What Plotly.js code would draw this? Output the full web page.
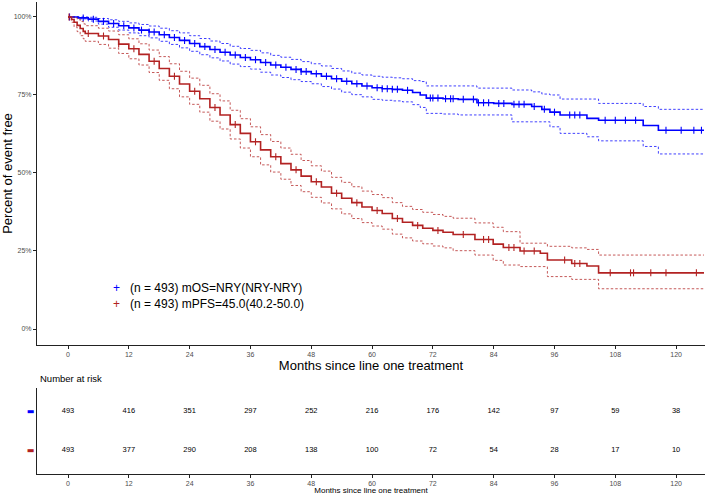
<!DOCTYPE html>
<html>
<head>
<meta charset="utf-8">
<script src="https://cdn.plot.ly/plotly-3.0.1.min.js"></script>
<style>html,body{margin:0;padding:0;background:#fff;}</style>
</head>
<body>
<div id="chart" style="width:709px;height:495px;"></div>
<script>
// ---------- DATA ----------
const os_time  = [0,2,4,6,8,10,12,14,16,18,20,22,24,26,28,30,32,34,36,38,40,42,44,46,48,50,52,54,56,58,60,62,64,66,68,69.5,70.7,74,77,80.7,84,87.6,91.5,93.5,95.1,97.1,102.4,104.7,113.5,116.5,125.5];
const os_surv  = [100,99.7,99.3,98.6,97.9,97.2,96.5,95.8,95.2,94.3,93.4,92.5,91.5,90.5,89.6,88.7,87.8,87.0,86.3,85.4,84.6,83.9,83.2,82.5,81.8,81.0,80.2,79.4,78.6,77.9,77.3,77.0,76.8,76.5,75.8,75.0,74.0,73.8,73.6,72.5,72.3,72.0,71.3,70.4,69.5,68.6,67.5,66.9,65.2,63.7,63.7];
const os_upper = [100,100,99.9,99.5,99.1,98.6,98.1,97.6,97.1,96.4,95.6,94.9,94.0,93.1,92.3,91.5,90.6,89.9,89.3,88.5,87.7,87.1,86.4,85.7,85.0,84.3,83.5,82.7,82.0,81.4,81.0,80.7,80.5,80.2,79.6,79.3,77.9,77.9,77.9,77.2,77.2,76.6,76.0,75.3,75.0,73.7,73.7,72.3,71.3,70.4,70.4];
const os_lower = [100,99.4,98.7,97.7,96.7,95.8,94.9,94.0,93.3,92.2,91.2,90.1,89.0,87.9,86.9,85.9,84.9,84.1,83.3,82.3,81.4,80.6,79.9,79.3,78.6,77.7,76.9,75.9,75.1,74.4,73.6,73.3,73.1,72.8,71.9,71.0,69.1,68.9,68.6,68.6,68.6,66.4,66.4,66.4,64.8,62.7,61.6,60.3,58.5,56.1,56.1];
const os_censor = [0.3,3,5,7,9,11,13,14.5,16,17,19,21,23,25,27,29,31,33,35,37,39,41,43,45,46,47,49,51,53,55,57,59,61,62,63,64,65,67,71.5,72,73,74.5,75.5,76,78,80,81,82,83,85,86,88,89,90,92,94,96,99,100,101,106,108,110,112,118,121,123.5,125];

const pfs_time  = [0,0.7,1.2,1.8,2.4,3.0,3.4,6,8,10,12,14,16,18,20,22,24,26,28,30,32,34,36,38,40,42,44,46,48,50,52,54,56,58,60,62,64,66,68,70,72,74,76,80.3,83.9,85.9,89.2,93.2,94.6,99.4,102.4,104.7,125.5];
const pfs_surv  = [100,99.2,98.3,97.3,96.3,95.4,94.7,93.9,92.8,91.3,89.8,88.0,85.8,83.5,81.0,78.5,76.2,73.8,71.0,68.6,65.5,62.7,60.0,57.4,55.2,53.0,51.0,49.0,47.2,45.5,43.5,41.9,40.5,39.1,38.0,37.0,35.4,34.2,33.2,32.3,31.6,31.0,30.3,28.7,27.2,26.1,25.0,24.3,22.1,21.0,20.2,18.0,18.0];
const pfs_upper = [100,100,99.8,99.3,98.6,97.8,97.2,96.4,95.5,94.3,93.0,91.4,89.4,87.3,85.0,82.6,80.4,78.1,75.4,73.1,70.1,67.4,64.8,62.3,60.1,58.0,56.0,54.0,52.3,50.6,48.6,47.0,45.6,44.2,43.1,42.1,40.5,39.3,38.3,37.4,36.7,36.1,35.5,34.0,32.6,31.2,27.5,27.5,26.5,26.0,25.5,23.7,23.7];
const pfs_lower = [100,98.3,96.8,95.3,94.0,93.0,92.2,91.2,90.0,88.3,86.6,84.6,82.2,79.7,77.0,74.4,72.0,69.5,66.6,64.1,60.9,58.0,55.2,52.6,50.3,48.0,46.0,44.0,42.2,40.4,38.5,36.9,35.4,34.1,33.0,32.0,30.4,29.2,28.2,27.3,26.6,26.0,25.1,23.7,22.0,20.5,20.0,20.0,16.8,15.9,15.9,12.9,12.9];
const pfs_censor = [0.2,4,7,10,13,17,21,25,29,33,37,41,45,49,53,57,61,65,69,73,78,82,83,87,88,90,92,98,100,101,107,111,111.6,115,118,124];

const legend_labels = ['(n = 493) mOS=NRY(NRY-NRY)', '(n = 493) mPFS=45.0(40.2-50.0)'];
const risk_times = [0,12,24,36,48,60,72,84,96,108,120];
const risk_os  = [493,416,351,297,252,216,176,142,97,59,38];
const risk_pfs = [493,377,290,208,138,100,72,54,28,17,10];
const x_ticks = [0,12,24,36,48,60,72,84,96,108,120];
const y_ticks = [0,25,50,75,100];
const y_ticktext = ['0%','25%','50%','75%','100%'];

// ---------- STYLE ----------
const BLUE = '#0000FF';
const RED = '#B22222';
const FONT = 'Liberation Sans, Arial, sans-serif';
const AX = '#222222';
const TICKCOL = '#4D4D4D';

function stepAt(times, vals, t) {
  let v = vals[0];
  for (let i = 0; i < times.length; i++) { if (times[i] <= t) v = vals[i]; else break; }
  return v;
}

function curveTraces(times, surv, up, lo, censor, color) {
  return [
    {x: times, y: up, type:'scatter', mode:'lines', line:{shape:'hv', color:color, width:1, dash:'2.5px,2px'}, opacity:0.75, hoverinfo:'skip'},
    {x: times, y: lo, type:'scatter', mode:'lines', line:{shape:'hv', color:color, width:1, dash:'2.5px,2px'}, opacity:0.75, hoverinfo:'skip'},
    {x: times, y: surv, type:'scatter', mode:'lines', line:{shape:'hv', color:color, width:1.6}},
    {x: censor, y: censor.map(t => stepAt(times, surv, t)), type:'scatter', mode:'markers',
     marker:{symbol:'line-ns', size:5, color:color, line:{color:color, width:1.1}}}
  ];
}

const traces = [].concat(
  curveTraces(os_time, os_surv, os_upper, os_lower, os_censor, BLUE),
  curveTraces(pfs_time, pfs_surv, pfs_upper, pfs_lower, pfs_censor, RED),
  [
    {x: risk_times, y: risk_times.map(() => 2), text: risk_os.map(String), type:'scatter', mode:'text',
     textfont:{family:FONT, size:7.5, color:'#000'}, xaxis:'x2', yaxis:'y2', cliponaxis:false},
    {x: risk_times, y: risk_times.map(() => 1), text: risk_pfs.map(String), type:'scatter', mode:'text',
     textfont:{family:FONT, size:7.5, color:'#000'}, xaxis:'x2', yaxis:'y2', cliponaxis:false}
  ]
);

const NB = '\u00A0';
const legendText =
  "<span style='color:" + BLUE + "'>+</span>" + NB + NB + NB + legend_labels[0] + "<br>" +
  "<span style='color:" + RED + "'>+</span>" + NB + NB + NB + legend_labels[1];

const layout = {
  width: 709, height: 495,
  margin: {l:37, r:4, t:2, b:21},
  paper_bgcolor:'#fff', plot_bgcolor:'#fff',
  showlegend:false,
  font:{family:FONT, color:'#000'},
  xaxis: {
    domain:[0,1], anchor:'y', range:[-6.12,125.7], tickvals:x_ticks,
    ticks:'outside', ticklen:3, tickcolor:AX, tickwidth:1,
    showline:true, linecolor:AX, linewidth:1, zeroline:false, showgrid:false,
    tickfont:{family:FONT, size:7, color:TICKCOL},
    title:{text:'Months since line one treatment', font:{family:FONT, size:13, color:'#000'}, standoff:0},
    automargin:false
  },
  yaxis: {
    domain:[0.2733,1], anchor:'x', range:[-5.13,104.8], tickvals:y_ticks, ticktext:y_ticktext,
    ticks:'outside', ticklen:3, tickcolor:AX, tickwidth:1,
    showline:true, linecolor:AX, linewidth:1, zeroline:false, showgrid:false,
    tickfont:{family:FONT, size:7, color:TICKCOL},
    title:{text:'Percent of event free', font:{family:FONT, size:13, color:'#000'}, standoff:3},
    automargin:false
  },
  xaxis2: {
    domain:[0,1], anchor:'y2', range:[-6.12,125.7], tickvals:x_ticks,
    ticks:'outside', ticklen:3, tickcolor:AX, tickwidth:1,
    showline:true, linecolor:AX, linewidth:1, zeroline:false, showgrid:false,
    tickfont:{family:FONT, size:7, color:TICKCOL},
    title:{text:'Months since line one treatment', font:{family:FONT, size:8, color:'#000'}, standoff:0},
    automargin:false
  },
  yaxis2: {
    domain:[0,0.1822], anchor:'x2', range:[0.4,2.6], tickvals:[1,2],
    ticktext:["<span style='color:" + RED + "'><b>▬</b></span>", "<span style='color:" + BLUE + "'><b>▬</b></span>"],
    ticks:'', showline:true, linecolor:AX, linewidth:1, zeroline:false, showgrid:false,
    tickfont:{family:'DejaVu Sans', size:8}, automargin:false
  },
  annotations: [
    {xref:'paper', yref:'paper', x:0.001, y:0.2013, xanchor:'left', yanchor:'middle', showarrow:false,
     text:'Number at risk', font:{family:FONT, size:9.5, color:'#000'}},
    {xref:'paper', yref:'paper', x:0.1115, y:0.3781, xanchor:'left', yanchor:'middle', align:'left', showarrow:false,
     text:legendText, font:{family:FONT, size:12, color:'#000'}}
  ]
};

Plotly.newPlot('chart', traces, layout, {displayModeBar:false, staticPlot:true});
</script>
</body>
</html>
